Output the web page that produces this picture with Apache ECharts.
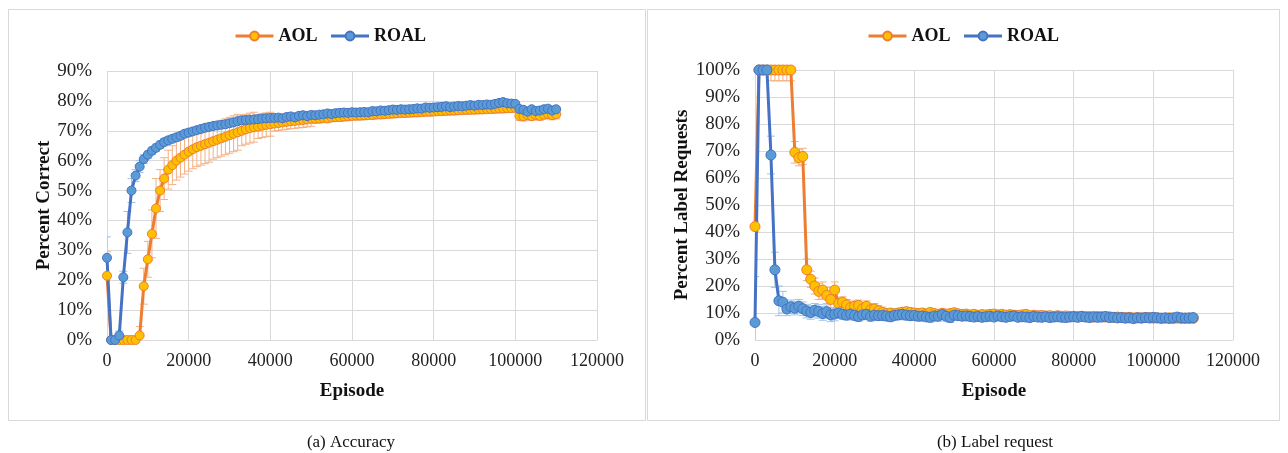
<!DOCTYPE html>
<html>
<head>
<meta charset="utf-8">
<script src="https://cdn.jsdelivr.net/npm/echarts@6/dist/echarts.min.js"></script>
<style>
html,body{margin:0;padding:0;background:#fff;}
#chart{width:1288px;height:453px;}
</style>
</head>
<body>
<div id="chart"></div>
<script>
// Episodes (x values)
const episodes = [0,1000,2000,3000,4000,5000,6000,7000,8000,9000,10000,11000,12000,13000,14000,15000,16000,17000,18000,19000,20000,21000,22000,23000,24000,25000,26000,27000,28000,29000,30000,31000,32000,33000,34000,35000,36000,37000,38000,39000,40000,41000,42000,43000,44000,45000,46000,47000,48000,49000,50000,51000,52000,53000,54000,55000,56000,57000,58000,59000,60000,61000,62000,63000,64000,65000,66000,67000,68000,69000,70000,71000,72000,73000,74000,75000,76000,77000,78000,79000,80000,81000,82000,83000,84000,85000,86000,87000,88000,89000,90000,91000,92000,93000,94000,95000,96000,97000,98000,99000,100000,101000,102000,103000,104000,105000,106000,107000,108000,109000,110000];

// (a) Accuracy, percent correct
const accAOL = [21.5,0,0,0,0,0,0,0,1.5,18,27,35.5,44,50,54,57,58.5,60,61,62,63,63.8,64.5,65,65.5,66,66.5,67,67.5,68,68.5,69,69.5,70,70.5,70.9,71.2,71.4,71.7,72,72.2,72.4,72.6,72.8,73,73.2,73.3,73.5,73.6,73.8,74,74,74.1,74.3,74.2,74.5,74.6,74.6,74.8,74.9,75,75.1,75.1,75.2,75.3,75.3,75.5,75.5,75.6,75.7,75.8,75.9,76,76,76.1,76.2,76.2,76.3,76.4,76.4,76.5,76.6,76.6,76.7,76.8,76.8,76.9,77,77,77.1,77.1,77.2,77.2,77.3,77.3,77.4,77.5,77.5,77.6,77.6,77.7,75,74.8,75.2,74.9,75.3,75,75.4,75.6,75.2,75.5];
const accAOLErr = [8,0.5,0.5,0.5,0.5,0.5,0.5,0.5,3,6,6,8,10,7,7,6.5,6.5,6.5,6.5,6.5,6.5,6.5,6.5,6.5,6.5,6.5,6,6,6,6,6,6,6,5,5,5,5,4,4,4,4,2.5,2.5,2.5,2.5,2.5,2.5,2.5,2.5,2.5,2.5,1.5,1.5,1.5,1.5,1.5,1.5,1.5,1.5,1.5,1.5,1.5,1.5,1.5,1.5,1.5,1.5,1.5,1.5,1.5,1.5,1.5,1.5,1.5,1.5,1.5,1.5,1.5,1.5,1.5,1.5,1.5,1.5,1.5,1.5,1.5,1.5,1.5,1.5,1.5,1.5,1.5,1.5,1.5,1.5,1.5,1.5,1.5,1.5,1.5,1.5,1.5,1.5,1.5,1.5,1.5,1.5,1.5,1.5,1.5,1.5];
const accROAL = [27.5,0,0,1.5,21,36,50,55,58,60.5,62,63.3,64.3,65.3,66.2,66.8,67.3,67.8,68.3,69,69.4,69.8,70.2,70.6,71,71.3,71.6,71.8,72,72.2,72.5,72.8,73.2,73.5,73.6,73.7,73.8,73.9,74.1,74.2,74.3,74.3,74.4,74.2,74.6,74.8,74.5,75,75.2,74.9,75.3,75.2,75.4,75.5,75.8,75.6,75.9,76,76.1,76,76.2,76.1,76.2,76.3,76.2,76.6,76.5,76.8,76.7,76.9,77.1,77,77.2,77.1,77.2,77.3,77.5,77.4,77.8,77.7,77.8,77.9,78,78.2,77.9,78.1,78.3,78.2,78.4,78.6,78.4,78.7,78.6,78.8,78.7,79,79.3,79.6,79.2,79.1,79,77.3,77,76.4,77.2,76.6,76.8,77.2,77.4,76.8,77.2];
const accROALErr = [7,0.3,0.3,1.5,2,7,4,2,2,1.5,1.2,1.2,1.2,1.2,1.2,1.2,1.2,1.2,1.2,1.2,1.2,0.8,0.8,0.8,0.8,0.8,0.8,0.8,0.8,0.8,0.8,0.8,0.8,0.8,0.8,0.8,0.8,0.8,0.8,0.8,0.8,0.8,0.8,0.8,0.8,0.8,0.8,0.8,0.8,0.8,0.8,0.8,0.8,0.8,0.8,0.8,0.8,0.8,0.8,0.8,0.8,0.8,0.8,0.8,0.8,0.8,0.8,0.8,0.8,0.8,0.8,0.8,0.8,0.8,0.8,0.8,0.8,0.8,0.8,0.8,0.8,0.8,0.8,0.8,0.8,0.8,0.8,0.8,0.8,0.8,0.8,0.8,0.8,0.8,0.8,0.8,0.8,0.8,0.8,0.8,0.8,0.8,0.8,0.8,0.8,0.8,0.8,0.8,0.8,0.8,0.8];

// (b) Label request, percent label requests
const reqAOL = [42,100,100,100,100,100,100,100,100,100,69.5,67.5,68,26,22.5,20,18,18.5,16.5,15,18.5,13.5,14,13,12,12.5,12.8,11.5,12.5,11.2,11.5,10.8,10.2,9.8,10,9.7,10,10.3,10.5,10.2,10,9.8,10,9.6,10.2,9.8,9.5,9.9,9.6,9.8,10.1,9.7,9.5,9.6,9.3,9.5,9.2,9.4,9.3,9.5,9.6,9.3,9.5,9.2,9.4,9.2,9.1,9.3,9.5,9,9.2,9,9.1,8.9,9,8.8,9,8.8,8.9,8.7,8.8,8.7,8.8,8.6,8.7,8.5,8.7,8.6,8.5,8.6,8.4,8.5,8.4,8.3,8.4,8.2,8.3,8.2,8.3,8.2,8.1,8.2,8,8.1,8.2,8,8.1,8,8.1,8,8];
const reqAOLErr = [2,1,1,1,4,4,4,4,4,4,4,3,3,4,3,3,3,3,3,3,3,2,2,2,2,2,2,2,2,2,2,2,2,1.5,1.5,1.5,1.5,1.5,1.5,1.5,1.5,1.5,1.5,1.5,1.5,1.5,1.5,1.5,1.5,1.5,1.5,1.2,1.2,1.2,1.2,1.2,1.2,1.2,1.2,1.2,1.2,1.2,1.2,1.2,1.2,1.2,1.2,1.2,1.2,1.2,1.2,1.2,1.2,1.2,1.2,1.2,1.2,1.2,1.2,1.2,1.2,1.2,1.2,1.2,1.2,1.2,1.2,1.2,1.2,1.2,1.2,1.2,1.2,1.2,1.2,1.2,1.2,1.2,1.2,1.2,1.2,1.2,1.2,1.2,1.2,1.2,1.2,1.2,1.2,1.2,1.2,1.2];
const reqROAL = [6.5,100,100,100,68.5,26,14.5,14,11.5,12.3,11.8,12.5,11.6,10.7,10.2,11,10.6,9.8,10.5,9.3,9.6,10,9.5,9.2,9.6,9.1,8.7,9.3,9.5,8.8,9.2,9,9.1,8.9,8.6,9.1,9.3,9.5,9.2,9,9.1,8.8,8.9,8.6,8.4,8.9,8.8,9.4,8.8,8.3,9.2,9,8.8,8.9,8.7,8.5,8.7,8.4,8.6,8.8,8.5,8.9,8.6,8.4,8.7,8.9,8.4,8.6,8.5,8.3,8.7,8.5,8.4,8.6,8.3,8.5,8.6,8.4,8.3,8.5,8.6,8.4,8.7,8.5,8.3,8.6,8.4,8.5,8.7,8.3,8.4,8.2,8.3,8.1,8.2,7.9,8.2,8.1,8.3,8.2,8.4,8.2,8.1,8.2,8,8.2,8.5,8.2,8.1,8.2,8.3];
const reqROALErr = [17,0.5,0.5,0.5,7,6.5,5.5,4,2.5,2.5,2.5,2.5,2.5,2.5,2.5,2.5,2.5,2.5,2.5,2.5,2.5,1.8,1.8,1.8,1.8,1.8,1.8,1.8,1.8,1.8,1.8,1.8,1.8,1.8,1.8,1.8,1.8,1.8,1.8,1.8,1.8,1.8,1.8,1.8,1.8,1.8,1.8,1.8,1.8,1.8,1.8,1.2,1.2,1.2,1.2,1.2,1.2,1.2,1.2,1.2,1.2,1.2,1.2,1.2,1.2,1.2,1.2,1.2,1.2,1.2,1.2,1.2,1.2,1.2,1.2,1.2,1.2,1.2,1.2,1.2,1.2,1.2,1.2,1.2,1.2,1.2,1.2,1.2,1.2,1.2,1.2,1.2,1.2,1.2,1.2,1.2,1.2,1.2,1.2,1.2,1.2,1.2,1.2,1.2,1.2,1.2,1.2,1.2,1.2,1.2,1.2,1.2];

const seriesNames = ['AOL', 'ROAL'];
const captions = ['(a) Accuracy', '(b) Label request'];
const yTitles = ['Percent Correct', 'Percent Label Requests'];
const xTitle = 'Episode';

const FONT = '"Liberation Serif", "Times New Roman", serif';
const ORANGE = '#ED7D31', GOLD = '#FFC000', BLUE = '#4472C4', LBLUE = '#5B9BD5';

function pts(ys) { return episodes.map((x, i) => [x, ys[i]]); }
function errPts(ys, es) { return episodes.map((x, i) => [x, ys[i], es[i]]); }

function errSeries(name, ys, es, color, idx) {
  return {
    type: 'custom', name: name + ' err', xAxisIndex: idx, yAxisIndex: idx,
    silent: true, z: 1, clip: true,
    data: errPts(ys, es),
    renderItem: function (params, api) {
      const x = api.value(0), y = api.value(1), e = api.value(2);
      const top = api.coord([x, y + e]);
      const bot = api.coord([x, y - e]);
      const cw = 4;
      const st = { stroke: color, lineWidth: 1 };
      return {
        type: 'group', children: [
          { type: 'line', shape: { x1: top[0], y1: top[1], x2: bot[0], y2: bot[1] }, style: st },
          { type: 'line', shape: { x1: top[0] - cw, y1: top[1], x2: top[0] + cw, y2: top[1] }, style: st },
          { type: 'line', shape: { x1: bot[0] - cw, y1: bot[1], x2: bot[0] + cw, y2: bot[1] }, style: st }
        ]
      };
    }
  };
}

function lineSeries(name, ys, idx, lc, fc, size) {
  return {
    type: 'line', name: name, xAxisIndex: idx, yAxisIndex: idx,
    data: pts(ys), symbol: 'circle', symbolSize: size, showSymbol: true,
    lineStyle: { color: lc, width: 3 },
    itemStyle: { color: fc, borderColor: lc, borderWidth: 1 },
    z: 3, animation: false, clip: true
  };
}

const nameStyle = { fontFamily: FONT, fontSize: 19, fontWeight: 'bold', color: '#111' };
const gridLine = { show: true, lineStyle: { color: '#D9D9D9', width: 1 } };

function xAx(idx) {
  return {
    type: 'value', gridIndex: idx, min: 0, max: 120000, interval: 20000,
    name: xTitle, nameLocation: 'middle', nameGap: 42, nameTextStyle: nameStyle,
    axisLine: { show: true, lineStyle: { color: '#D9D9D9' } },
    axisTick: { show: false }, splitLine: gridLine,
    axisLabel: { fontFamily: FONT, fontSize: 18, color: '#222', margin: 12, formatter: function (v) { return String(v); } }
  };
}
function yAx(idx, max, gap) {
  return {
    type: 'value', gridIndex: idx, min: 0, max: max, interval: 10,
    name: yTitles[idx], nameLocation: 'middle', nameGap: gap, nameTextStyle: nameStyle,
    axisLine: { show: false }, axisTick: { show: false }, splitLine: gridLine,
    axisLabel: { fontFamily: FONT, fontSize: 19, color: '#222', margin: 15, formatter: '{value}%' }
  };
}

const legendText = { fontFamily: FONT, fontSize: 18, fontWeight: 'bold', color: '#111' };
function legend(left) {
  return {
    data: seriesNames, left: left, top: 22, itemWidth: 38, itemHeight: 11, itemGap: 12,
    lineStyle: { width: 3 }, textStyle: legendText
  };
}

const chart = echarts.init(document.getElementById('chart'), null, { renderer: 'canvas' });
chart.setOption({
  animation: false,
  backgroundColor: '#fff',
  legend: [legend(229), legend(862)],
  grid: [
    { left: 107, top: 71, width: 490, height: 269 },
    { left: 755, top: 70, width: 478, height: 270 }
  ],
  xAxis: [xAx(0), xAx(1)],
  yAxis: [yAx(0, 90, 52), yAx(1, 100, 62)],
  graphic: [
    { type: 'rect', shape: { x: 8.5, y: 9.5, width: 637, height: 411 }, style: { fill: 'none', stroke: '#D9D9D9', lineWidth: 1 }, silent: true },
    { type: 'rect', shape: { x: 647.5, y: 9.5, width: 632, height: 411 }, style: { fill: 'none', stroke: '#D9D9D9', lineWidth: 1 }, silent: true },
    { type: 'text', x: 351, y: 443, style: { text: captions[0], font: '17px ' + FONT, fill: '#111', textAlign: 'center', textVerticalAlign: 'middle' }, silent: true },
    { type: 'text', x: 995, y: 443, style: { text: captions[1], font: '17px ' + FONT, fill: '#111', textAlign: 'center', textVerticalAlign: 'middle' }, silent: true }
  ],
  series: [
    errSeries('AOL', accAOL, accAOLErr, '#F4B183', 0),
    errSeries('ROAL', accROAL, accROALErr, '#9DC3E6', 0),
    lineSeries('AOL', accAOL, 0, ORANGE, GOLD, 9),
    lineSeries('ROAL', accROAL, 0, BLUE, LBLUE, 9),
    errSeries('AOL', reqAOL, reqAOLErr, '#F4B183', 1),
    errSeries('ROAL', reqROAL, reqROALErr, '#9DC3E6', 1),
    lineSeries('AOL', reqAOL, 1, ORANGE, GOLD, 10),
    lineSeries('ROAL', reqROAL, 1, BLUE, LBLUE, 10)
  ]
});
</script>
</body>
</html>
